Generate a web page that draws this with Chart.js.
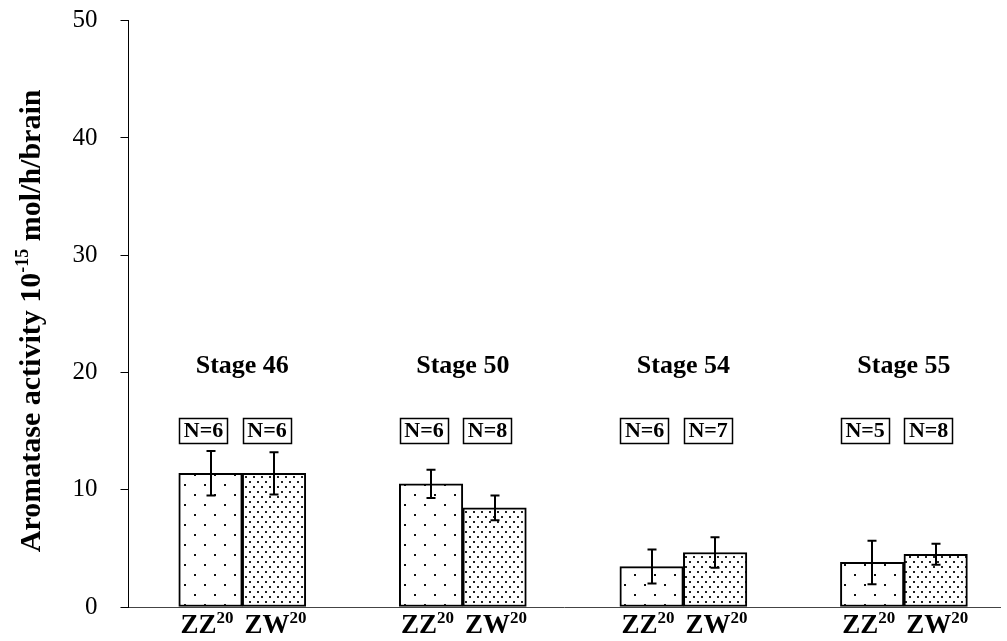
<!DOCTYPE html>
<html>
<head>
<meta charset="utf-8">
<script src="https://cdn.jsdelivr.net/npm/chart.js@4.4.1/dist/chart.umd.min.js"></script>
<style>
html,body{margin:0;padding:0;background:#fff;overflow:hidden;}
canvas{display:block;}
</style>
</head>
<body>
<canvas id="c" width="1007" height="641"></canvas>
<script>
// ---- data ----
const categories = ['Stage 46', 'Stage 50', 'Stage 54', 'Stage 55'];
const genotypes = ['ZZ', 'ZW'];
const genotypeSup = '20';
const zzMean = [11.4, 10.5, 3.45, 3.8];
const zzErr  = [1.9, 1.2, 1.45, 1.85];
const zwMean = [11.4, 8.45, 4.65, 4.5];
const zwErr  = [1.8, 1.05, 1.3, 0.9];
const zzN = [6, 6, 6, 5];
const zwN = [6, 8, 7, 8];
const yMin = 0, yMax = 50, yStep = 10;
const yTitleMain = 'Aromatase activity 10';
const yTitleSup = '-15';
const yTitleEnd = ' mol/h/brain';

const SERIF = '"Liberation Serif", "Times New Roman", "DejaVu Serif", serif';
const canvas = document.getElementById('c');
const ctx0 = canvas.getContext('2d');

function makePattern(w, h, dots, size, color) {
  const c = document.createElement('canvas');
  c.width = w; c.height = h;
  const g = c.getContext('2d');
  g.fillStyle = '#fff'; g.fillRect(0, 0, w, h);
  g.fillStyle = color;
  dots.forEach(d => g.fillRect(d[0], d[1], size, size));
  return ctx0.createPattern(c, 'repeat');
}
const zzPattern = makePattern(20, 20, [[4, 4], [14, 14]], 2, '#111');
const zwPattern = makePattern(8, 10, [[1, 1], [5, 6]], 2, '#222');

const meanArr = [zzMean, zwMean];
const errArr = [zzErr, zwErr];
const nArr = [zzN, zwN];
const labelShift = [-3.5, 1.5];

const annotations = {
  id: 'annotations',
  afterDatasetsDraw(chart) {
    const ctx = chart.ctx;
    const ys = chart.scales.y, xs = chart.scales.x;
    ctx.save();
    // error bars
    ctx.strokeStyle = '#000';
    ctx.lineWidth = 2;
    [0, 1].forEach(d => {
      const meta = chart.getDatasetMeta(d);
      meta.data.forEach((el, i) => {
        const v = meanArr[d][i], e = errArr[d][i];
        const yt = ys.getPixelForValue(v + e), yb = ys.getPixelForValue(v - e);
        const x = Math.round(el.x);
        ctx.beginPath();
        ctx.moveTo(x, yt); ctx.lineTo(x, yb);
        ctx.moveTo(x - 4.5, yt); ctx.lineTo(x + 4.5, yt);
        ctx.moveTo(x - 4.5, yb); ctx.lineTo(x + 4.5, yb);
        ctx.stroke();
      });
    });
    // stage titles
    ctx.fillStyle = '#000';
    ctx.textAlign = 'center';
    ctx.textBaseline = 'alphabetic';
    ctx.font = 'bold 26px ' + SERIF;
    categories.forEach((c, i) => {
      ctx.fillText(c, xs.getPixelForValue(i), ys.getPixelForValue(20.15) + 2);
    });
    // N boxes
    ctx.font = 'bold 22px ' + SERIF;
    ctx.lineWidth = 1.5;
    [0, 1].forEach(d => {
      const meta = chart.getDatasetMeta(d);
      meta.data.forEach((el, i) => {
        const txt = 'N=' + nArr[d][i];
        const tw = ctx.measureText(txt).width;
        const cx = el.x - 7, cy = ys.getPixelForValue(15.05);
        const bw = tw + 9, bh = 25;
        ctx.strokeRect(Math.round(cx - bw / 2) + 0.5, Math.round(cy - bh / 2) + 0.5, Math.round(bw), bh);
        ctx.textBaseline = 'middle';
        ctx.fillText(txt, cx, cy + 1);
      });
    });
    // x labels with superscript
    ctx.textBaseline = 'alphabetic';
    ctx.textAlign = 'left';
    const base = chart.chartArea.bottom + 26;
    [0, 1].forEach(d => {
      const meta = chart.getDatasetMeta(d);
      meta.data.forEach((el, i) => {
        ctx.font = 'bold 27px ' + SERIF;
        const w1 = ctx.measureText(genotypes[d]).width;
        ctx.font = 'bold 17px ' + SERIF;
        const w2 = ctx.measureText(genotypeSup).width;
        const x0 = el.x + labelShift[d] - (w1 + w2) / 2;
        ctx.font = 'bold 27px ' + SERIF;
        ctx.fillText(genotypes[d], x0, base);
        ctx.font = 'bold 17px ' + SERIF;
        ctx.fillText(genotypeSup, x0 + w1, base - 10);
      });
    });
    // y title (rotated)
    const ca = chart.chartArea;
    ctx.save();
    ctx.translate(40, (ca.top + ca.bottom) / 2 + 7);
    ctx.rotate(-Math.PI / 2);
    ctx.font = 'bold 30px ' + SERIF;
    const a = ctx.measureText(yTitleMain).width;
    const c2 = ctx.measureText(yTitleEnd).width;
    ctx.font = 'bold 18px ' + SERIF;
    const b = ctx.measureText(yTitleSup).width;
    let x = -(a + b + c2) / 2;
    ctx.font = 'bold 30px ' + SERIF;
    ctx.fillText(yTitleMain, x, 0); x += a;
    ctx.font = 'bold 18px ' + SERIF;
    ctx.fillText(yTitleSup, x, -12); x += b;
    ctx.font = 'bold 30px ' + SERIF;
    ctx.fillText(yTitleEnd, x, 0);
    ctx.restore();
    ctx.restore();
  }
};

new Chart(canvas, {
  type: 'bar',
  data: {
    datasets: [
      {
        label: genotypes[0] + genotypeSup,
        data: categories.map((c, i) => ({ x: i, y: zzMean[i] })),
        backgroundColor: zzPattern,
        borderColor: '#000',
        borderWidth: 2,
        borderSkipped: false
      },
      {
        label: genotypes[1] + genotypeSup,
        data: categories.map((c, i) => ({ x: i, y: zwMean[i] })),
        backgroundColor: zwPattern,
        borderColor: '#000',
        borderWidth: 2,
        borderSkipped: false
      }
    ]
  },
  options: {
    responsive: false,
    animation: false,
    devicePixelRatio: 1,
    barThickness: 63.5,
    layout: { padding: { left: 0, top: 20.7, right: 7, bottom: 34 } },
    plugins: { legend: { display: false }, tooltip: { enabled: false } },
    scales: {
      x: {
        type: 'linear',
        offset: false,
        min: -0.5158,
        max: 3.4357,
        ticks: { display: false, stepSize: 1, includeBounds: false },
        grid: { display: false, drawTicks: false },
        border: { display: true, color: '#444', width: 1 },
        afterFit: s => { s.height = 0; s.paddingLeft = 0; s.paddingRight = 0; }
      },
      y: {
        min: yMin,
        max: yMax,
        ticks: {
          stepSize: yStep,
          color: '#000',
          padding: 23,
          font: { family: SERIF, size: 25 }
        },
        grid: { display: true, drawOnChartArea: false, drawTicks: true, tickLength: 8, color: '#000', lineWidth: 1 },
        border: { display: true, color: '#000', width: 1 },
        afterFit: s => { s.width = 128.5; s.paddingTop = 0; s.paddingBottom = 0; }
      }
    }
  },
  plugins: [annotations]
});
</script>
</body>
</html>
